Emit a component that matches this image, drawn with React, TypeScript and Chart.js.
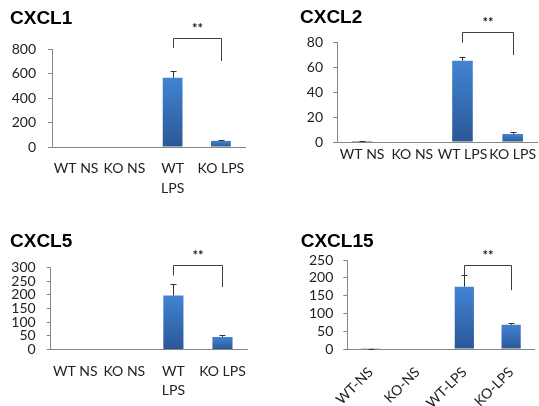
import React, { useEffect, useRef } from 'react';
import { Chart, registerables } from 'chart.js';

Chart.register(...registerables);

// ---- data ----
const categories = ['WT NS', 'KO NS', 'WT LPS', 'KO LPS'];
const categoriesWrapped = ['WT NS', 'KO NS', ['WT', 'LPS'], 'KO LPS'];
const categoriesHyphen = ['WT-NS', 'KO-NS', 'WT-LPS', 'KO-LPS'];

const cxcl1Values = [0, 0, 565, 50];
const cxcl1Errors = [0, 0, 55, 8];
const cxcl1Ticks = [0, 200, 400, 600, 800];
const cxcl1Bracket = [890, 808, 702]; // top, left end, right end

const cxcl2Values = [0.8, 0, 65, 6.4];
const cxcl2Errors = [0.3, 0, 3, 1.3];
const cxcl2Ticks = [0, 20, 40, 60, 80];
const cxcl2Bracket = [88, 79.4, 69.6];

const cxcl5Values = [0, 0, 197, 46];
const cxcl5Errors = [0, 0, 43, 6];
const cxcl5Ticks = [0, 50, 100, 150, 200, 250, 300];
const cxcl5Bracket = [310, 270, 228];

const cxcl15Values = [0.5, 0, 175, 68];
const cxcl15Errors = [0.5, 0, 32, 6];
const cxcl15Ticks = [0, 50, 100, 150, 200, 250];
const cxcl15Bracket = [235, 204, 165];

const significance = '**';

// ---- layout ----
type Panel = {
  title: string;
  labels: any[];
  values: number[];
  errors: number[];
  ticks: number[];
  bracket: number[];
  left: number;
  top: number;
  width: number;
  height: number;
  padLeft: number;
  padRight: number;
  yWidth: number;
  xHeight: number;
  titleTop: number;
  titleBottom: number;
  yPad: number;
  xPad: number;
  rotate: number;
};

const panels: Panel[] = [
  {
    title: 'CXCL1', labels: categoriesWrapped, values: cxcl1Values, errors: cxcl1Errors,
    ticks: cxcl1Ticks, bracket: cxcl1Bracket,
    left: 0, top: 0, width: 270, height: 203,
    padLeft: 10, padRight: 25, yWidth: 42, xHeight: 56,
    titleTop: 7.4, titleBottom: 19.4, yPad: 12, xPad: 12, rotate: 0,
  },
  {
    title: 'CXCL2', labels: categories, values: cxcl2Values, errors: cxcl2Errors,
    ticks: cxcl2Ticks, bracket: cxcl2Bracket,
    left: 270, top: 0, width: 269, height: 203,
    padLeft: 30, padRight: 0, yWidth: 37, xHeight: 61,
    titleTop: 6.4, titleBottom: 13.4, yPad: 10, xPad: 3, rotate: 0,
  },
  {
    title: 'CXCL5', labels: categoriesWrapped, values: cxcl5Values, errors: cxcl5Errors,
    ticks: cxcl5Ticks, bracket: cxcl5Bracket,
    left: 0, top: 203, width: 270, height: 203,
    padLeft: 10, padRight: 23, yWidth: 40.7, xHeight: 56.5,
    titleTop: 27.4, titleBottom: 14.7, yPad: 11, xPad: 12, rotate: 0,
  },
  {
    title: 'CXCL15', labels: categoriesHyphen, values: cxcl15Values, errors: cxcl15Errors,
    ticks: cxcl15Ticks, bracket: cxcl15Bracket,
    left: 270, top: 203, width: 269, height: 203,
    padLeft: 30.7, padRight: 0, yWidth: 46.6, xHeight: 57,
    titleTop: 27.9, titleBottom: 6.9, yPad: 10, xPad: 14, rotate: 45,
  },
];

const AXIS = '#868686';
const TEXT = '#222222';
const LINE = '#333333';
const BAR_TOP = '#4283d3';
const BAR_BOTTOM = '#2b5896';

function ChartPanel({ p }: { p: Panel }) {
  const ref = useRef<HTMLCanvasElement>(null);

  useEffect(() => {
    const canvas = ref.current;
    if (!canvas) return;

    const overlay = {
      id: 'overlay',
      afterDatasetsDraw(chart: any) {
        const { ctx } = chart;
        const x = chart.scales.x;
        const y = chart.scales.y;
        const meta = chart.getDatasetMeta(0);
        ctx.save();
        ctx.strokeStyle = LINE;
        ctx.lineWidth = 1;
        // error bars (plus direction)
        meta.data.forEach((bar: any, i: number) => {
          const err = p.errors[i];
          if (!err) return;
          const v = p.values[i];
          const bx = Math.round(bar.x) + 0.5;
          const yTop = y.getPixelForValue(v);
          const yErr = Math.round(y.getPixelForValue(v + err)) + 0.5;
          ctx.beginPath();
          ctx.moveTo(bx, yTop);
          ctx.lineTo(bx, yErr);
          ctx.moveTo(bx - 3, yErr);
          ctx.lineTo(bx + 3, yErr);
          ctx.stroke();
        });
        // significance bracket
        const [bt, bl, br] = p.bracket;
        const xl = Math.round(x.getPixelForValue(2)) + 0.5;
        const xr = Math.round(x.getPixelForValue(3)) + 0.5;
        const yt = Math.round(y.getPixelForValue(bt)) + 0.5;
        const yl = y.getPixelForValue(bl);
        const yr = y.getPixelForValue(br);
        ctx.strokeStyle = '#404040';
        ctx.beginPath();
        ctx.moveTo(xl, yl);
        ctx.lineTo(xl, yt);
        ctx.lineTo(xr, yt);
        ctx.lineTo(xr, yr);
        ctx.stroke();
        ctx.fillStyle = TEXT;
        ctx.font = 'bold 13px Lato';
        ctx.textAlign = 'center';
        ctx.textBaseline = 'middle';
        ctx.fillText(significance, (xl + xr) / 2, yt - 10);
        ctx.restore();
      },
    };

    const gradient = (c: any) => {
      const chart = c.chart;
      const ys = chart.scales && chart.scales.y;
      if (!ys || c.raw == null) return BAR_TOP;
      const top = ys.getPixelForValue(c.raw);
      const bottom = ys.getPixelForValue(0);
      if (!isFinite(top) || !isFinite(bottom) || bottom - top < 1) return BAR_BOTTOM;
      const g = chart.ctx.createLinearGradient(0, top, 0, bottom);
      g.addColorStop(0, BAR_TOP);
      g.addColorStop(1, BAR_BOTTOM);
      return g;
    };

    const chart = new Chart(canvas, {
      type: 'bar',
      data: {
        labels: p.labels,
        datasets: [
          {
            data: p.values,
            backgroundColor: gradient,
            borderWidth: 0,
            categoryPercentage: 1,
            barPercentage: 0.41,
          },
        ],
      },
      options: {
        responsive: false,
        animation: false,
        devicePixelRatio: 1,
        layout: { padding: { left: p.padLeft, right: p.padRight, top: 0, bottom: 0 } },
        plugins: {
          legend: { display: false },
          tooltip: { enabled: false },
          title: {
            display: true,
            text: p.title,
            align: 'start',
            color: '#000',
            font: { family: "'Liberation Sans', Arial, sans-serif", size: 19, weight: 'bold', lineHeight: 1.2 },
            padding: { top: p.titleTop - 0.3, bottom: p.titleBottom - 0.3 },
          },
        },
        scales: {
          x: {
            grid: { display: false, drawTicks: false },
            border: { display: true, color: AXIS, width: 1 },
            ticks: {
              autoSkip: false,
              maxRotation: p.rotate,
              minRotation: p.rotate,
              padding: p.xPad,
              color: TEXT,
              font: { family: 'Lato', size: 14, lineHeight: 1.4 },
            },
            afterFit: (s: any) => {
              s.height = p.xHeight;
            },
          },
          y: {
            min: 0,
            max: p.ticks[p.ticks.length - 1],
            grid: { drawOnChartArea: false, drawTicks: true, tickLength: 4, color: AXIS },
            border: { display: true, color: AXIS, width: 1 },
            ticks: {
              autoSkip: false,
              padding: p.yPad,
              color: TEXT,
              font: { family: 'Lato', size: 14, lineHeight: 1.2 },
            },
            afterBuildTicks: (s: any) => {
              s.ticks = p.ticks.map((v) => ({ value: v }));
            },
            afterFit: (s: any) => {
              s.width = p.yWidth;
            },
          },
        },
      } as any,
      plugins: [overlay],
    });

    return () => chart.destroy();
  }, [p]);

  return (
    <canvas
      ref={ref}
      width={p.width}
      height={p.height}
      style={{ position: 'absolute', left: p.left, top: p.top, width: p.width, height: p.height }}
    />
  );
}

export default function App() {
  return (
    <div
      style={{
        position: 'absolute',
        left: 0,
        top: 0,
        width: 539,
        height: 406,
        background: '#fff',
        overflow: 'hidden',
      }}
    >
      {panels.map((p) => (
        <ChartPanel key={p.title} p={p} />
      ))}
    </div>
  );
}
